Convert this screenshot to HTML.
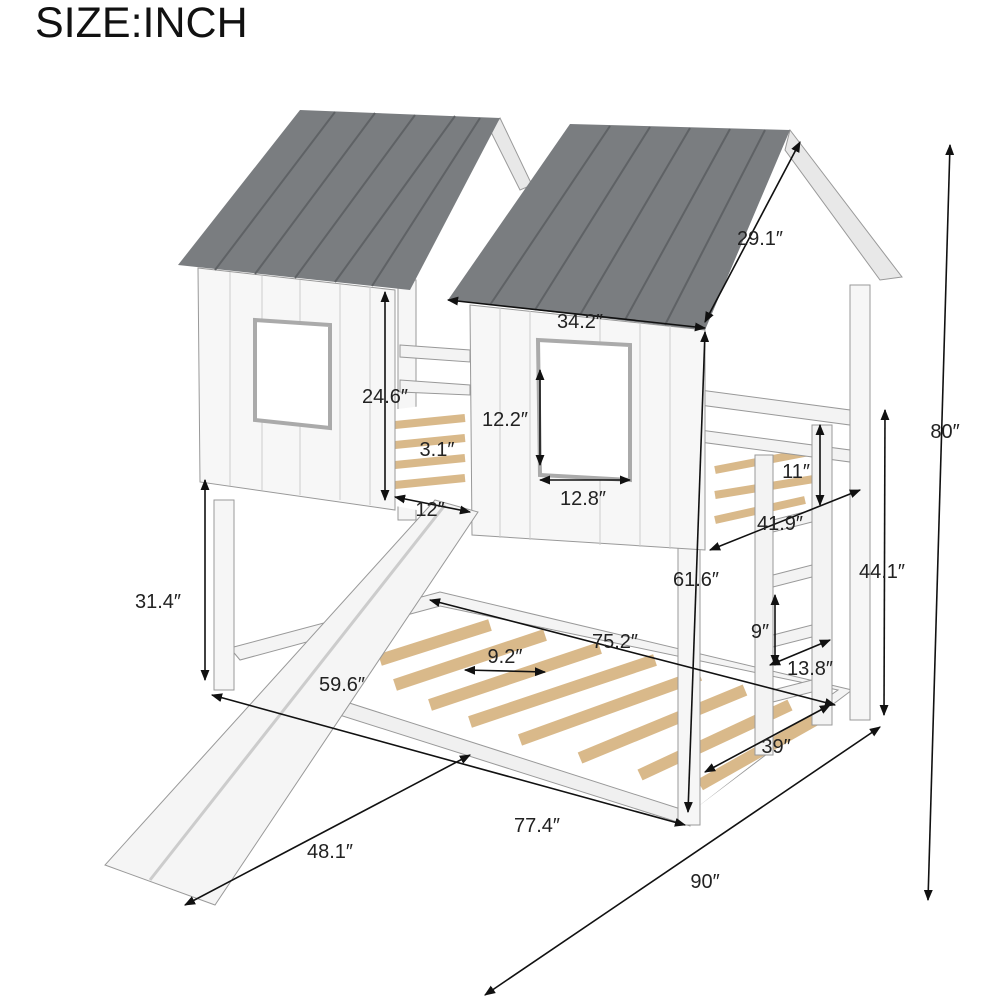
<!DOCTYPE html>
<html><head><meta charset="utf-8"><style>
html,body{margin:0;padding:0;background:#fff;width:1000px;height:1000px;overflow:hidden}
svg text{font-family:"Liberation Sans",sans-serif;fill:#222}
</style></head><body>
<svg width="1000" height="1000" viewBox="0 0 1000 1000" xmlns="http://www.w3.org/2000/svg">
<defs>
<marker id="a" viewBox="0 0 10 10" refX="9" refY="5" markerWidth="7" markerHeight="7" orient="auto-start-reverse"><path d="M0,1 L10,5 L0,9 z" fill="#111"/></marker>
</defs>
<text x="35" y="37" font-size="43" style="fill:#111">SIZE:INCH</text>

<!-- lower bed frame & slats -->
<polygon points="230,648 440,592 852,690 690,812 680,800 838,690 440,606 240,660" fill="#f4f4f4" stroke="#999"/>
<polygon points="330,700 445,608 835,700 700,805" fill="#fff"/>
<g stroke="#d9b98a" stroke-width="12">
<line x1="380" y1="660" x2="490" y2="625"/><line x1="395" y1="685" x2="545" y2="635"/>
<line x1="430" y1="705" x2="600" y2="648"/><line x1="470" y1="722" x2="655" y2="660"/>
<line x1="520" y1="740" x2="700" y2="675"/><line x1="580" y1="758" x2="745" y2="690"/>
<line x1="640" y1="775" x2="790" y2="705"/><line x1="700" y1="785" x2="815" y2="720"/>
</g>
<polygon points="340,700 690,812 690,826 330,712" fill="#f0f0f0" stroke="#999"/>

<!-- legs -->
<rect x="214" y="500" width="20" height="190" fill="#f6f6f6" stroke="#999"/>
<rect x="678" y="330" width="22" height="495" fill="#f6f6f6" stroke="#999"/>
<rect x="850" y="285" width="20" height="435" fill="#f6f6f6" stroke="#999"/>
<rect x="398" y="280" width="18" height="240" fill="#f6f6f6" stroke="#999"/>

<!-- upper bunk slats -->
<polygon points="390,410 470,400 470,520 390,505" fill="#fff"/>
<g stroke="#d9b98a" stroke-width="8">
<line x1="395" y1="425" x2="465" y2="418"/><line x1="395" y1="445" x2="465" y2="438"/>
<line x1="395" y1="465" x2="465" y2="458"/><line x1="395" y1="485" x2="465" y2="478"/>
<line x1="715" y1="470" x2="820" y2="450"/><line x1="715" y1="495" x2="820" y2="478"/>
<line x1="715" y1="520" x2="805" y2="500"/><line x1="545" y1="455" x2="625" y2="450"/>
<line x1="545" y1="470" x2="625" y2="465"/>
</g>
<!-- rails -->
<g fill="#f3f3f3" stroke="#999">
<polygon points="700,390 850,410 850,425 700,405"/>
<polygon points="700,430 850,450 850,462 700,442"/>
<polygon points="400,345 470,350 470,362 400,357"/>
<polygon points="400,380 470,385 470,395 400,392"/>
<rect x="812" y="425" width="20" height="300"/>
<rect x="755" y="455" width="18" height="300"/>
<polygon points="773,520 812,510 812,522 773,532"/>
<polygon points="773,575 812,565 812,577 773,587"/>
<polygon points="773,635 812,625 812,637 773,647"/>
<polygon points="773,690 812,680 812,692 773,702"/>
</g>

<!-- left house -->
<polygon points="198,268 395,290 395,510 200,482" fill="#f7f7f7" stroke="#999"/>
<g stroke="#ccc"><line x1="230" y1="272" x2="230" y2="486"/><line x1="262" y1="276" x2="262" y2="490"/><line x1="300" y1="280" x2="300" y2="495"/><line x1="340" y1="284" x2="340" y2="500"/><line x1="370" y1="287" x2="370" y2="505"/></g>
<polygon points="255,320 330,325 330,428 255,420" fill="#fff" stroke="#aaa" stroke-width="4"/>
<!-- right house -->
<polygon points="470,305 705,330 705,550 472,535" fill="#f7f7f7" stroke="#999"/>
<g stroke="#ccc"><line x1="500" y1="308" x2="500" y2="538"/><line x1="530" y1="311" x2="530" y2="540"/><line x1="600" y1="318" x2="600" y2="545"/><line x1="640" y1="322" x2="640" y2="547"/><line x1="670" y1="326" x2="670" y2="549"/></g>
<polygon points="538,340 630,345 630,480 540,475" fill="#fff" stroke="#aaa" stroke-width="4"/>

<!-- roofs -->
<polygon points="500,118 532,185 520,190 490,130" fill="#e8e8e8" stroke="#999"/>
<polygon points="178,265 300,110 500,118 410,290" fill="#7a7d80"/>
<g stroke="#5f6265" stroke-width="2"><line x1="215" y1="270" x2="335" y2="112"/><line x1="255" y1="274" x2="375" y2="113"/><line x1="295" y1="278" x2="415" y2="115"/><line x1="335" y1="282" x2="455" y2="116"/><line x1="372" y1="286" x2="480" y2="118"/></g>
<polygon points="790,130 902,277 880,280 785,150" fill="#e8e8e8" stroke="#999"/>
<polygon points="448,300 570,124 790,130 705,330" fill="#7a7d80"/>
<g stroke="#5f6265" stroke-width="2"><line x1="490" y1="305" x2="610" y2="126"/><line x1="535" y1="310" x2="650" y2="127"/><line x1="580" y1="315" x2="690" y2="128"/><line x1="625" y1="320" x2="730" y2="129"/><line x1="665" y1="325" x2="765" y2="130"/></g>

<!-- slide -->
<polygon points="435,500 478,512 215,905 105,865" fill="#f5f5f5" stroke="#999"/>
<line x1="445" y1="505" x2="150" y2="880" stroke="#ccc" stroke-width="3"/>

<!-- dimension lines -->
<g stroke="#111" stroke-width="1.6" fill="none" marker-start="url(#a)" marker-end="url(#a)">
<line x1="950" y1="145" x2="928" y2="900"/>
<line x1="885" y1="410" x2="884" y2="715"/>
<line x1="485" y1="995" x2="880" y2="727"/>
<line x1="212" y1="695" x2="685" y2="825"/>
<line x1="185" y1="905" x2="470" y2="755"/>
<line x1="205" y1="480" x2="205" y2="680"/>
<line x1="465" y1="670" x2="545" y2="672"/>
<line x1="430" y1="600" x2="835" y2="705"/>
<line x1="705" y1="332" x2="688" y2="812"/>
<line x1="775" y1="595" x2="775" y2="665"/>
<line x1="770" y1="665" x2="830" y2="640"/>
<line x1="705" y1="772" x2="830" y2="705"/>
<line x1="710" y1="550" x2="860" y2="490"/>
<line x1="820" y1="425" x2="820" y2="505"/>
<line x1="385" y1="292" x2="385" y2="500"/>
<line x1="395" y1="497" x2="470" y2="512"/>
<line x1="540" y1="370" x2="540" y2="465"/>
<line x1="540" y1="480" x2="630" y2="480"/>
<line x1="448" y1="300" x2="705" y2="328"/>
<line x1="705" y1="322" x2="800" y2="142"/>
</g>

<!-- labels -->
<g font-size="20" text-anchor="middle">
<text x="945" y="438">80″</text>
<text x="882" y="578">44.1″</text>
<text x="705" y="888">90″</text>
<text x="537" y="832">77.4″</text>
<text x="330" y="858">48.1″</text>
<text x="158" y="608">31.4″</text>
<text x="342" y="691">59.6″</text>
<text x="505" y="663">9.2″</text>
<text x="615" y="648">75.2″</text>
<text x="696" y="586">61.6″</text>
<text x="760" y="638">9″</text>
<text x="810" y="675">13.8″</text>
<text x="776" y="753">39″</text>
<text x="780" y="530">41.9″</text>
<text x="796" y="478">11″</text>
<text x="385" y="403">24.6″</text>
<text x="437" y="456">3.1″</text>
<text x="430" y="516">12″</text>
<text x="505" y="426">12.2″</text>
<text x="583" y="505">12.8″</text>
<text x="580" y="328">34.2″</text>
<text x="760" y="245">29.1″</text>
</g>
</svg>
</body></html>
